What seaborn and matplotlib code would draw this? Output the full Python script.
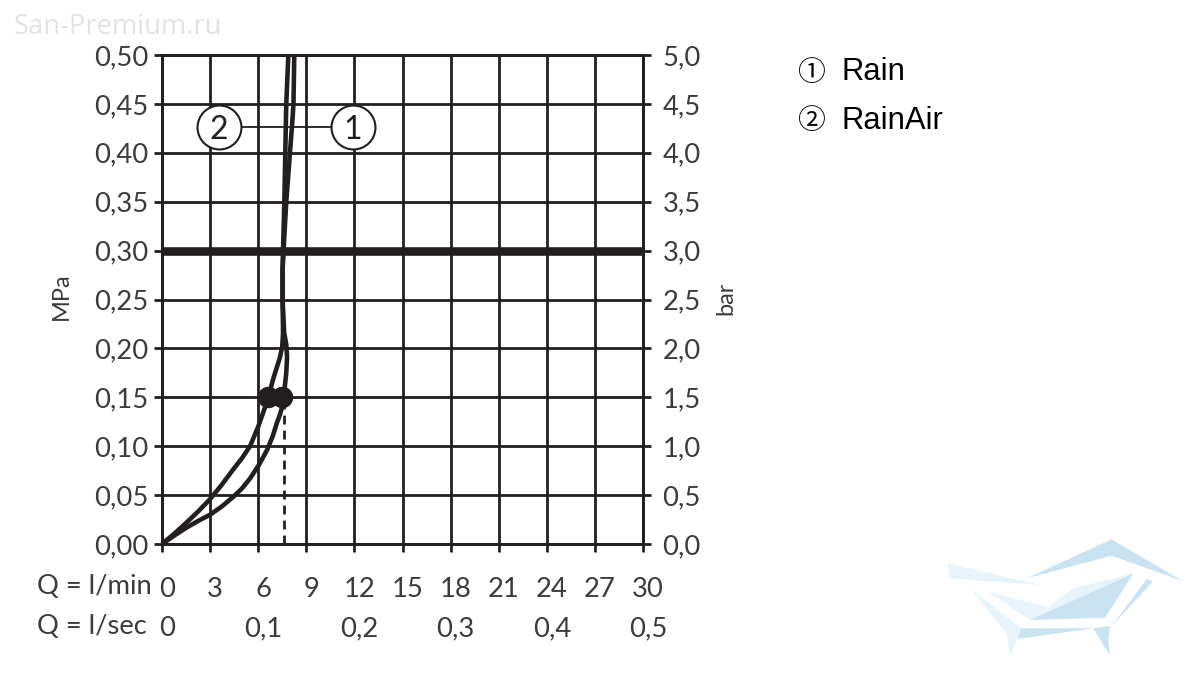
import matplotlib
matplotlib.use("Agg")
import matplotlib.pyplot as plt
from matplotlib.patches import Polygon
from matplotlib.transforms import ScaledTranslation
import pandas as pd
import seaborn as sns

# curva 1 (derecha) y curva 2 (izquierda)
q_rain = [0, 0.8, 1.55, 2.3, 3, 3.7, 4.43, 5, 5.49, 6.05, 6.55, 6.9, 7.17, 7.35, 7.49, 7.64, 7.75, 7.8, 7.75, 7.62, 7.52, 7.52, 7.58, 7.75, 7.98, 8.12, 8.2, 8.25]
p_rain = [0, 0.009, 0.017, 0.024, 0.03, 0.038, 0.048, 0.057, 0.067, 0.081, 0.096, 0.11, 0.124, 0.132, 0.14, 0.158, 0.175, 0.191, 0.204, 0.216, 0.25, 0.28, 0.30, 0.35, 0.40, 0.43, 0.45, 0.50]
q_rainair = [0, 0.8, 1.6, 2.3, 3, 3.7, 4.43, 5, 5.49, 6, 6.43, 6.7, 6.92, 7.15, 7.36, 7.5, 7.55, 7.52, 7.52, 7.55, 7.63, 7.69, 7.75, 7.88]
p_rainair = [0, 0.011, 0.023, 0.034, 0.046, 0.06, 0.076, 0.088, 0.10, 0.12, 0.14, 0.154, 0.168, 0.18, 0.191, 0.202, 0.216, 0.25, 0.28, 0.30, 0.35, 0.40, 0.45, 0.50]

q_dots = [6.6, 7.5]
p_dots = [0.15, 0.15]
q_dash = [7.58, 7.58]
p_dash = [0, 0.15]
p_ref = 0.30

globo_q = [3.55, 11.9]
globo_p = [0.426, 0.426]
globo_txt = ["2", "1"]

min_ticks = [0, 3, 6, 9, 12, 15, 18, 21, 24, 27, 30]
sec_ticks = [0, 0.1, 0.2, 0.3, 0.4, 0.5]
sec_labels = ["0", "0,1", "0,2", "0,3", "0,4", "0,5"]
mpa_ticks = [0, 0.05, 0.10, 0.15, 0.20, 0.25, 0.30, 0.35, 0.40, 0.45, 0.50]
bar_ticks = [0, 0.5, 1, 1.5, 2, 2.5, 3, 3.5, 4, 4.5, 5]

negro = "#231f20"
gris = "#3c3a3b"
azul = "#c9e3f3"
claro = "#e8f4fb"

sns.set_theme(style="white")
plt.rcParams["font.family"] = ["Lato", "DejaVu Sans"]
plt.rcParams["axes.linewidth"] = 2.0

fig = plt.figure(figsize=(12, 6.75), dpi=100)
ax = fig.add_axes([162 / 1200, 1 - 544 / 675, (643 - 162) / 1200, (544 - 55) / 675])

ax.set_xlim(0, 30)
ax.set_ylim(0, 0.5)
ax.grid(True, color=negro, lw=2.0)
ax.set_axisbelow(True)
for s in ax.spines.values():
    s.set_color(negro)

df1 = pd.DataFrame({"q": q_rain, "p": p_rain})
df2 = pd.DataFrame({"q": q_rainair, "p": p_rainair})

ax.axhline(p_ref, color=negro, lw=6.2, zorder=2)
ax.plot(q_dash, p_dash, color=negro, lw=2.0, dashes=(3.2, 2.2), zorder=2)
# linea fina que une los dos globos
ax.plot(globo_q, globo_p, color=negro, lw=1.3, zorder=2)
sns.lineplot(data=df1, x="q", y="p", color=negro, lw=3.3, sort=False, estimator=None, ax=ax, zorder=3)
sns.lineplot(data=df2, x="q", y="p", color=negro, lw=3.3, sort=False, estimator=None, ax=ax, zorder=3)
sns.scatterplot(x=q_dots, y=p_dots, color=negro, s=240, linewidth=0, ax=ax, zorder=4)
sns.scatterplot(x=globo_q, y=globo_p, color="white", edgecolor=negro, s=1000, linewidth=1.5, ax=ax, zorder=5)
for qq, pp, t in zip(globo_q, globo_p, globo_txt):
    ax.text(qq, pp, t, ha="center", va="center_baseline", fontsize=23, color=negro, zorder=6)

ax.set_xlabel("")
ax.set_ylabel("")
ax.set_xticks(min_ticks)
ax.set_xticklabels([str(v) for v in min_ticks])
ax.set_yticks(mpa_ticks)
ax.set_yticklabels([f"{v:.2f}".replace(".", ",") for v in mpa_ticks])
ax.tick_params(axis="x", length=6, width=2.0, color=negro, labelsize=19.7, labelcolor=gris, pad=18, bottom=True)
ax.tick_params(axis="y", length=6, width=2.0, color=negro, labelsize=19.7, labelcolor=gris, pad=4, left=True)
desp = ScaledTranslation(5 / 100, 0, fig.dpi_scale_trans)
for lab in ax.get_xticklabels():
    lab.set_transform(lab.get_transform() + desp)

# segunda escala inferior en l/sec
sec = ax.secondary_xaxis(-0.0, functions=(lambda v: v / 60, lambda v: v * 60))
sec.set_xticks(sec_ticks)
sec.set_xticklabels(sec_labels)
sec.tick_params(axis="x", length=0, labelsize=19.7, labelcolor=gris, pad=52)
sec.spines["bottom"].set_visible(False)
for lab in sec.get_xticklabels():
    lab.set_transform(lab.get_transform() + desp)

ax2 = ax.twinx()
ax2.set_ylim(0, 5)
ax2.set_yticks(bar_ticks)
ax2.set_yticklabels([f"{v:.1f}".replace(".", ",") for v in bar_ticks])
ax2.tick_params(axis="y", length=6, width=2.0, color=negro, labelsize=19.7, labelcolor=gris, pad=8, right=True)
ax2.grid(False)
for s in ax2.spines.values():
    s.set_color(negro)

# capa en pixeles para textos sueltos y logo
capa = fig.add_axes([0, 0, 1, 1], zorder=-1)
capa.set_xlim(0, 1200)
capa.set_ylim(675, 0)
capa.axis("off")

capa.text(37, 587, "Q = l/min", fontsize=19.7, color=gris, va="center")
capa.text(37, 627, "Q = l/sec", fontsize=19.7, color=gris, va="center")
capa.text(61, 296, "MPa", fontsize=17, color=gris, rotation=90, ha="center", va="center")
capa.text(726, 298, "bar", fontsize=17, color=gris, rotation=90, ha="center", va="center")
capa.text(14, 27, "San-Premium.ru", fontsize=19.7, color="#e3e3e3", va="center", family="Open Sans")

capa.text(811, 73, "\u2460", fontsize=20, color="black", ha="center", va="center", family="Noto Sans CJK SC")
capa.text(811, 121, "\u2461", fontsize=20, color="black", ha="center", va="center", family="Noto Sans CJK SC")
capa.text(841, 72, "Rain", fontsize=22.3, color="black", va="center", family="Liberation Sans")
capa.text(841, 121, "RainAir", fontsize=22.3, color="black", va="center", family="Liberation Sans")

# logo de agua (coordenadas del recorte, origen 930,520, escala 3)
logo = [
    ([(290, 175), (545, 58), (757, 183), (545, 107)], azul),
    ([(52, 130), (330, 195), (60, 175)], claro),
    ([(175, 215), (355, 262), (300, 300)], claro),
    ([(355, 262), (430, 205), (610, 160), (300, 300)], claro),
    ([(300, 300), (610, 160), (525, 293)], azul),
    ([(650, 177), (668, 185), (545, 318)], azul),
    ([(120, 205), (270, 322), (262, 355), (240, 408), (230, 340)], claro),
    ([(272, 325), (490, 325), (262, 357)], azul),
    ([(490, 325), (540, 318), (535, 360), (540, 408)], azul),
]
for pts, col in logo:
    capa.add_patch(Polygon([(930 + a / 3, 520 + b / 3) for a, b in pts], closed=True, color=col, lw=0))

fig.savefig("out.png", dpi=100)
